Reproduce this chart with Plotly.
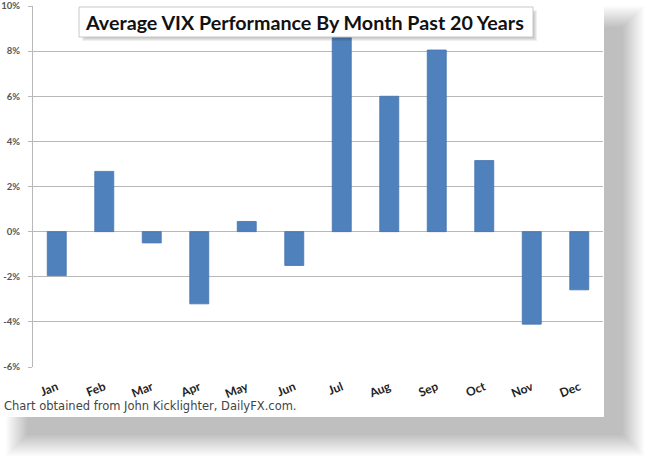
import plotly.graph_objects as go

months = ["Jan", "Feb", "Mar", "Apr", "May", "Jun", "Jul", "Aug", "Sep", "Oct", "Nov", "Dec"]
avg_perf = [-1.95, 2.67, -0.5, -3.2, 0.45, -1.5, 8.7, 6.0, 8.05, 3.15, -4.1, -2.58]
y_ticks = [-6, -4, -2, 0, 2, 4, 6, 8, 10]
y_tick_labels = ["-6%", "-4%", "-2%", "0%", "2%", "4%", "6%", "8%", "10%"]

W, H = 645, 460
L, R, T, B = 33, 603, 6, 367


def px(x):
    return (x - L) / (R - L)


def py(y):
    return (B - y) / (B - T)


fig = go.Figure(go.Bar(
    x=months, y=avg_perf,
    marker=dict(color="#4F81BD", line=dict(color="#4573AD", width=0.8)),
    width=0.4,
))

shapes = []
# card drop shadow (soft, offset down-right)
n = 16
for i in range(n):
    d = i * 1.4
    shapes.append(dict(type="rect", xref="paper", yref="paper", layer="below",
                       x0=px(6 + d), x1=px(644 - d), y0=py(6 + d), y1=py(456 - d),
                       fillcolor="rgba(0,0,0,0.014)", line=dict(width=0)))
# white card
shapes.append(dict(type="rect", xref="paper", yref="paper", layer="below",
                   x0=px(0), x1=px(604), y0=py(0), y1=py(417),
                   fillcolor="white", line=dict(width=0)))
# title box shadow
for i in range(4):
    shapes.append(dict(type="rect", xref="paper", yref="paper", layer="above",
                       x0=px(82 + i), x1=px(537 - i), y0=py(10 + i), y1=py(41 - i),
                       fillcolor="rgba(0,0,0,0.06)", line=dict(width=0)))
shapes.append(dict(type="rect", xref="paper", yref="paper", layer="above",
                   x0=px(79), x1=px(533), y0=py(7), y1=py(37),
                   fillcolor="white", line=dict(color="#C8C8C8", width=1)))

fig.update_layout(
    width=W, height=H,
    margin=dict(l=L, r=W - R, t=T, b=H - B, pad=0),
    paper_bgcolor="white",
    plot_bgcolor="rgba(0,0,0,0)",
    showlegend=False,
    shapes=shapes,
    annotations=[
        dict(text="Average VIX Performance By Month Past 20 Years", xref="paper", yref="paper",
             x=px(304), y=py(22), xanchor="center", yanchor="middle", showarrow=False,
             font=dict(family="Lato", size=19.7, color="#111111", weight="bold")),
        dict(text="Chart obtained from John Kicklighter, DailyFX.com.", xref="paper", yref="paper",
             x=px(2), y=py(406), xanchor="left", yanchor="middle", showarrow=False,
             font=dict(family="DejaVu Sans", size=11.5, color="#444444")),
    ],
    xaxis=dict(
        automargin=False,
        showgrid=False, showline=False, zeroline=False,
        tickangle=-22, ticks="", ticklabelstandoff=10,
        tickfont=dict(family="Lato", size=12, color="#222222", weight="bold"),
    ),
    yaxis=dict(
        automargin=False,
        range=[-6, 10], tickvals=y_ticks, ticktext=y_tick_labels,
        showgrid=True, gridcolor="#B8B8B8", gridwidth=1,
        zeroline=True, zerolinecolor="#B8B8B8", zerolinewidth=1,
        showline=True, linecolor="#B8B8B8", linewidth=1,
        ticks="outside", ticklen=4, tickcolor="#B8B8B8", ticklabelstandoff=6,
        tickfont=dict(family="Lato", size=9.5, color="#555555", weight="bold"),
    ),
    bargap=0.6,
)

fig.write_html("out.html", config={"displayModeBar": False},
               post_script="document.body.style.margin='0px';document.body.style.overflow='hidden';")
